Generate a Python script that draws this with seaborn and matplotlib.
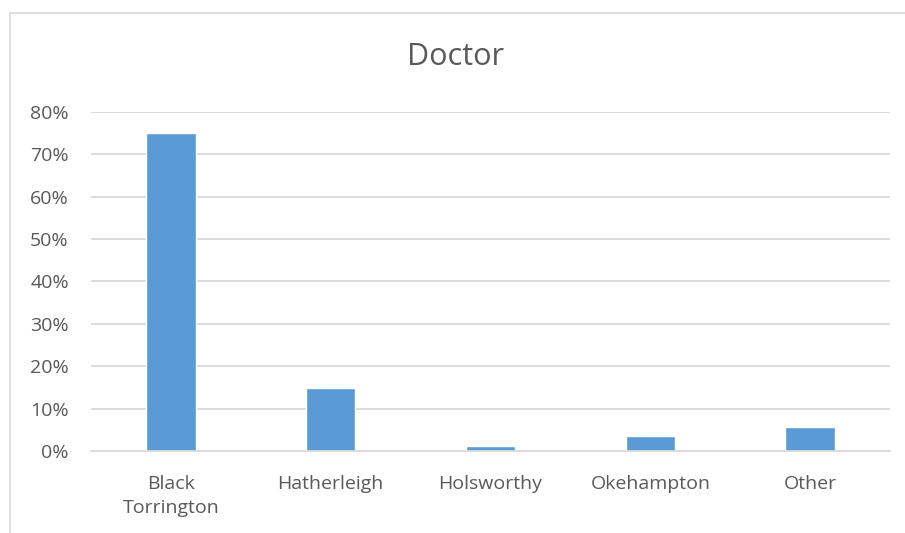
import matplotlib
matplotlib.use("Agg")
import matplotlib.pyplot as plt
import seaborn as sns
import pandas as pd
from matplotlib.lines import Line2D
from matplotlib.ticker import PercentFormatter

# values
categories = ["Black\nTorrington", "Hatherleigh", "Holsworthy", "Okehampton", "Other"]
shares = [0.75, 0.148, 0.011, 0.035, 0.057]
y_ticks = [0.0, 0.1, 0.2, 0.3, 0.4, 0.5, 0.6, 0.7, 0.8]

bar_color = "#5B9BD5"
grid_color = "#D9D9D9"
text_color = "#595959"

sns.set_theme(style="white")
plt.rcParams["font.family"] = ["Open Sans", "DejaVu Sans"]

df = pd.DataFrame({"place": categories, "share": shares})

fig = plt.figure(figsize=(9.05, 5.33), dpi=100)
ax = fig.add_axes([0.1006, 0.1538, 0.8828, 0.6366])

sns.barplot(data=df, x="place", y="share", color=bar_color, width=0.31,
            saturation=1, ax=ax)

ax.set_ylim(0, 0.8)
ax.set_xlim(-0.5, len(categories) - 0.5)
ax.set_yticks(y_ticks)
ax.yaxis.set_major_formatter(PercentFormatter(1.0, decimals=0))
ax.set_xlabel("")
ax.set_ylabel("")

ax.grid(axis="y", color=grid_color, linewidth=1.3)
ax.set_axisbelow(True)
for side in ["left", "right", "top"]:
    ax.spines[side].set_visible(False)
ax.spines["bottom"].set_color(grid_color)
ax.spines["bottom"].set_linewidth(1.3)

ax.tick_params(axis="y", length=0, pad=16, labelsize=14, labelcolor=text_color)
ax.tick_params(axis="x", length=0, pad=17, labelsize=14, labelcolor=text_color)
for lbl in ax.get_xticklabels():
    lbl.set_linespacing(1.45)

fig.text(0.503, 0.893, "Doctor", ha="center", va="center", fontsize=22,
         color=text_color)

# chart frame (only top and left edges visible in the reference)
fig.add_artist(Line2D([0.011, 1.0], [0.976, 0.976], transform=fig.transFigure,
                      color=grid_color, linewidth=1.2))
fig.add_artist(Line2D([0.011, 0.011], [0.0, 0.976], transform=fig.transFigure,
                      color=grid_color, linewidth=1.2))

fig.savefig("out.png", dpi=100, facecolor="white")
